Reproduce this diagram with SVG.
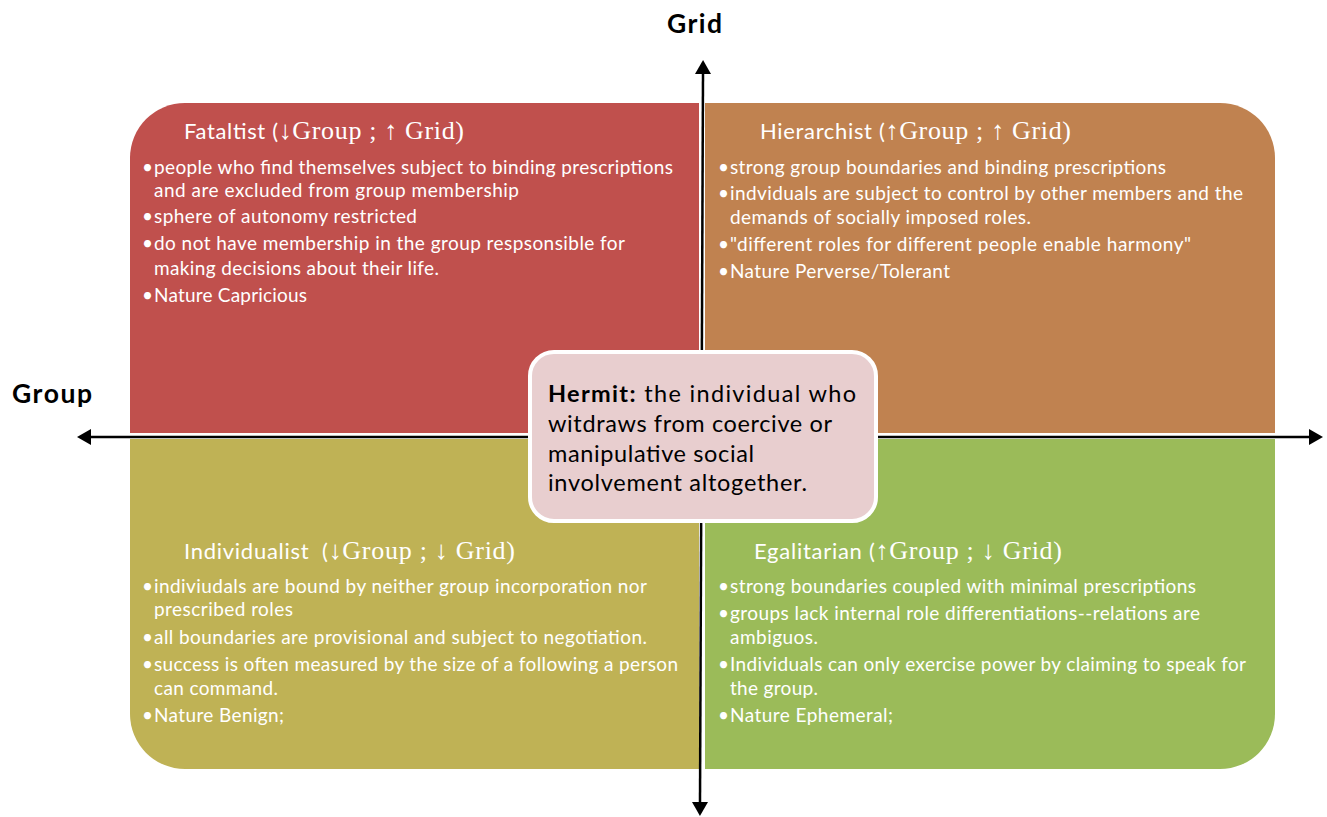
<svg xmlns="http://www.w3.org/2000/svg" width="1327" height="817" viewBox="0 0 1327 817">
<style>
.bg{fill:#ffffff}
.q-text{font-family:Lato,"Open Sans","Liberation Sans",sans-serif;font-size:19px;fill:#ffffff}
.q-title{font-family:Lato,"Open Sans","Liberation Sans",sans-serif;font-size:22px;fill:#ffffff}
.serif{font-family:"Liberation Serif","DejaVu Serif",serif;font-size:26px}
.axis{stroke:#000000;stroke-width:2.5;fill:none}
.axis-label{font-family:Lato,"Open Sans","Liberation Sans",sans-serif;font-weight:bold;font-size:26.5px;fill:#000000}
.hermit-box{fill:#E8CECF;stroke:#ffffff;stroke-width:4}
.hermit-text{font-family:Lato,"Open Sans","Liberation Sans",sans-serif;font-size:23.5px;fill:#000000}
</style>
<defs>
<marker id="arrow" viewBox="0 0 14 16" refX="0" refY="8" markerWidth="14" markerHeight="16" markerUnits="userSpaceOnUse" orient="auto-start-reverse">
<path d="M0,0 L14,8 L0,16 Z" fill="#000000"/>
</marker>
</defs>
<rect class="bg" x="0" y="0" width="1327" height="817"/>

<g id="quad-fatalist">
<path d="M130,433 V158 A55,55 0 0 1 185,103 H699 V433 Z" fill="#C0504D"/>
<text class="q-title" x="184" y="139" textLength="280">Fataltist (<tspan class="serif">↓Group ; ↑ Grid)</tspan></text>
<g class="q-text">
<text x="142" y="174">•</text>
<text x="154" y="174" textLength="519">people who find themselves subject to binding prescriptions</text>
<text x="154" y="197" textLength="365">and are excluded from group membership</text>
<text x="142" y="223">•</text>
<text x="154" y="223" textLength="263">sphere of autonomy restricted</text>
<text x="142" y="250">•</text>
<text x="154" y="250" textLength="471">do not have membership in the group respsonsible for</text>
<text x="154" y="275" textLength="285">making decisions about their life.</text>
<text x="142" y="302">•</text>
<text x="154" y="302" textLength="153">Nature Capricious</text>
</g>
</g>

<g id="quad-hierarchist">
<path d="M705,103 H1220 A55,55 0 0 1 1275,158 V433 H705 Z" fill="#C08250"/>
<text class="q-title" x="760" y="139" textLength="311">Hierarchist (<tspan class="serif">↑Group ; ↑ Grid)</tspan></text>
<g class="q-text">
<text x="718" y="174">•</text>
<text x="730" y="174" textLength="436">strong group boundaries and binding prescriptions</text>
<text x="718" y="200">•</text>
<text x="730" y="200" textLength="513">indviduals are subject to control by other members and the</text>
<text x="730" y="224" textLength="301">demands of socially imposed roles.</text>
<text x="718" y="251">•</text>
<text x="730" y="251" textLength="461">"different roles for different people enable harmony"</text>
<text x="718" y="278">•</text>
<text x="730" y="278" textLength="220">Nature Perverse/Tolerant</text>
</g>
</g>

<g id="quad-individualist">
<path d="M130,439 H699 V769 H185 A55,55 0 0 1 130,714 Z" fill="#BFB255"/>
<text class="q-title" x="184" y="559" textLength="331" xml:space="preserve">Individualist  (<tspan class="serif">↓Group ; ↓ Grid)</tspan></text>
<g class="q-text">
<text x="142" y="593">•</text>
<text x="154" y="593" textLength="493">indiviudals are bound by neither group incorporation nor</text>
<text x="154" y="616" textLength="139">prescribed roles</text>
<text x="142" y="644">•</text>
<text x="154" y="644" textLength="493">all boundaries are provisional and subject to negotiation.</text>
<text x="142" y="671">•</text>
<text x="154" y="671" textLength="524">success is often measured by the size of a following a person</text>
<text x="154" y="695" textLength="124">can command.</text>
<text x="142" y="722">•</text>
<text x="154" y="722" textLength="130">Nature Benign;</text>
</g>
</g>

<g id="quad-egalitarian">
<path d="M705,439 H1275 V714 A55,55 0 0 1 1220,769 H705 Z" fill="#9BBB59"/>
<text class="q-title" x="754" y="559" textLength="308">Egalitarian (<tspan class="serif">↑Group ; ↓ Grid)</tspan></text>
<g class="q-text">
<text x="718" y="593">•</text>
<text x="730" y="593" textLength="466">strong boundaries coupled with minimal prescriptions</text>
<text x="718" y="620">•</text>
<text x="730" y="620" textLength="470">groups lack internal role differentiations--relations are</text>
<text x="730" y="644" textLength="88">ambiguos.</text>
<text x="718" y="671">•</text>
<text x="730" y="671" textLength="516">Individuals can only exercise power by claiming to speak for</text>
<text x="730" y="695" textLength="88">the group.</text>
<text x="718" y="722">•</text>
<text x="730" y="722" textLength="163">Nature Ephemeral;</text>
</g>
</g>

<g id="connectors">
<line class="axis" x1="91" y1="437" x2="1309" y2="437" marker-start="url(#arrow)" marker-end="url(#arrow)"/>
<line class="axis" x1="703" y1="74" x2="700" y2="802" marker-start="url(#arrow)" marker-end="url(#arrow)"/>
</g>

<g id="label-grid">
<text class="axis-label" x="667" y="33" textLength="55">Grid</text>
</g>
<g id="label-group">
<text class="axis-label" x="12" y="403" textLength="80">Group</text>
</g>

<g id="hermit">
<rect class="hermit-box" x="530" y="352" width="346" height="169" rx="24" ry="24"/>
<text class="hermit-text" x="548" y="402" textLength="308"><tspan font-weight="bold">Hermit:</tspan> the individual who</text>
<text class="hermit-text" x="548" y="432" textLength="284">witdraws from coercive or</text>
<text class="hermit-text" x="548" y="462" textLength="206">manipulative social</text>
<text class="hermit-text" x="548" y="491" textLength="259">involvement altogether.</text>
</g>
</svg>
